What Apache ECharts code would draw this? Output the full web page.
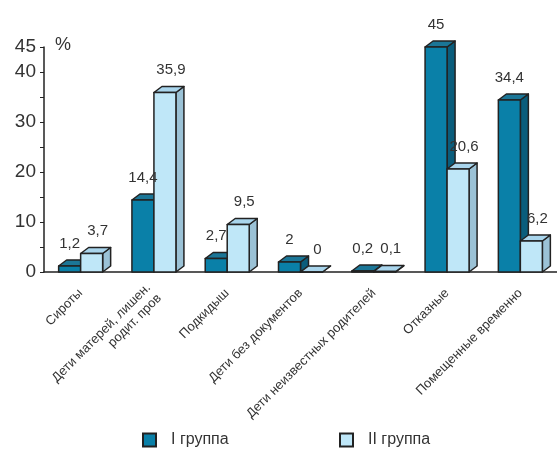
<!DOCTYPE html>
<html>
<head>
<meta charset="utf-8">
<script src="https://cdn.jsdelivr.net/npm/echarts@6/dist/echarts.min.js"></script>
<style>
  html, body { margin: 0; padding: 0; background: #fff; }
  #main { width: 557px; height: 451px; }
</style>
</head>
<body>
<div id="main"></div>
<script>
// категории и значения (%)
var categories = ['Сироты', 'Дети матерей, лишен.\nродит. пров', 'Подкидыш', 'Дети без документов',
  'Дети неизвестных родителей', 'Отказные', 'Помещенные временно'];
var group1 = [1.2, 14.4, 2.7, 2, 0.2, 45, 34.4];
var group2 = [3.7, 35.9, 9.5, 0, 0.1, 20.6, 6.2];
var yLabels = [0, 10, 20, 30, 40, 45];

var FONT = '"Liberation Sans", sans-serif';
var W = 22, DX = 8, DY = 6;

// псевдо-3D столбик
function box3d(side, cols) {
  return function (params, api) {
    var idx = api.value(0), v = api.value(1);
    var base = api.coord([idx, 0]);
    var top = api.coord([idx, v]);
    var x0 = side < 0 ? base[0] - W : base[0];
    var yt = top[1], yb = base[1];
    var line = { stroke: '#222', lineWidth: 1.5, lineJoin: 'round' };
    return {
      type: 'group',
      children: [
        { type: 'polygon', shape: { points: [[x0 + W, yt], [x0 + W + DX, yt - DY], [x0 + W + DX, yb - DY], [x0 + W, yb]] },
          style: Object.assign({ fill: cols.side }, line) },
        { type: 'polygon', shape: { points: [[x0, yt], [x0 + DX, yt - DY], [x0 + W + DX, yt - DY], [x0 + W, yt]] },
          style: Object.assign({ fill: cols.top }, line) },
        { type: 'rect', shape: { x: x0, y: yt, width: W, height: yb - yt },
          style: Object.assign({ fill: cols.front }, line) }
      ]
    };
  };
}

// подписи значений поверх столбиков
function labels(params, api) {
  var idx = api.value(0);
  var out = [];
  [[api.value(1), -W / 2, 0], [api.value(2), W / 2, 6]].forEach(function (d) {
    var base = api.coord([idx, 0]);
    var top = api.coord([idx, d[0]]);
    out.push({ type: 'text', x: base[0] + d[1] + d[2], y: top[1] - DY - 9,
      style: { text: String(d[0]).replace('.', ','), fill: '#333', font: '15px ' + FONT,
        textAlign: 'center', textVerticalAlign: 'bottom' } });
  });
  return { type: 'group', children: out };
}

var myChart = echarts.init(document.getElementById('main'));
myChart.setOption({
  animation: false,
  grid: { left: 44, right: 0, top: 47, bottom: 179 },
  graphic: [
    { type: 'text', left: 55, top: 36, z: 10, style: { text: '%', fill: '#333', font: '18px ' + FONT } }
  ],
  legend: [
    { left: 137, top: 427, icon: 'rect', itemWidth: 13, itemHeight: 13, data: ['I группа'],
      itemStyle: { borderColor: '#222', borderWidth: 2 },
      textStyle: { fontSize: 16, color: '#333', fontFamily: FONT, padding: [0, 0, 0, 10] } },
    { left: 334, top: 427, icon: 'rect', itemWidth: 13, itemHeight: 13, data: ['II группа'],
      itemStyle: { borderColor: '#222', borderWidth: 2 },
      textStyle: { fontSize: 16, color: '#333', fontFamily: FONT, padding: [0, 0, 0, 10] } }
  ],
  xAxis: {
    type: 'category',
    data: categories,
    axisLine: { lineStyle: { color: '#222', width: 1.5 } },
    axisTick: { length: 5, lineStyle: { color: '#222' } },
    axisLabel: { interval: 0, rotate: 45, margin: 19, fontSize: 13, color: '#333', fontFamily: FONT, lineHeight: 15 }
  },
  yAxis: {
    type: 'value',
    min: 0, max: 45, interval: 5,
    splitLine: { show: false },
    axisLine: { show: true, lineStyle: { color: '#222', width: 1.5 } },
    axisTick: { show: true, length: 4, lineStyle: { color: '#222' } },
    axisLabel: {
      fontSize: 19, color: '#333', fontFamily: FONT, margin: 8,
      formatter: function (v) { return yLabels.indexOf(v) >= 0 ? String(v) : ''; }
    }
  },
  series: [
    {
      name: 'I группа', type: 'custom',
      itemStyle: { color: '#0a80a8' },
      encode: { x: 0, y: 1 },
      data: group1.map(function (v, i) { return [i, v]; }),
      renderItem: box3d(-1, { front: '#0a80a8', top: '#1b7697', side: '#0a5d7c' })
    },
    {
      name: 'II группа', type: 'custom',
      itemStyle: { color: '#bfe7f8' },
      encode: { x: 0, y: 1 },
      data: group2.map(function (v, i) { return [i, v]; }),
      renderItem: box3d(1, { front: '#bfe7f8', top: '#a9d5ec', side: '#9bc2d6' })
    },
    {
      name: 'labels', type: 'custom', z: 5, silent: true,
      encode: { x: 0, y: [1, 2] },
      data: group1.map(function (v, i) { return [i, v, group2[i]]; }),
      renderItem: labels
    }
  ]
});
</script>
</body>
</html>
